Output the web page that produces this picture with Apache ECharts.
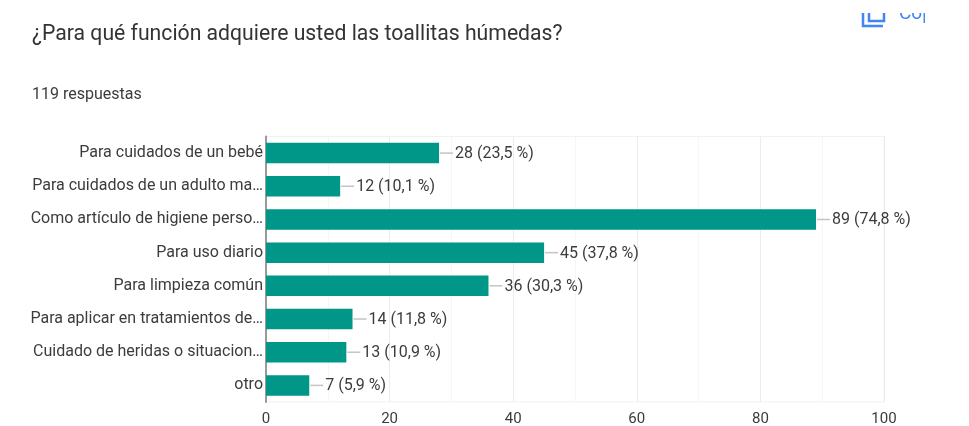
<!DOCTYPE html>
<html>
<head>
<meta charset="utf-8">
<style>html,body{margin:0;padding:0;background:#fff}#chart{width:969px;height:426px}</style>
<script src="https://cdn.jsdelivr.net/npm/echarts@6/dist/echarts.min.js"></script>
</head>
<body>
<div id="chart"></div>
<script>
const categories = [
  'Para cuidados de un bebé',
  'Para cuidados de un adulto ma…',
  'Como artículo de higiene perso…',
  'Para uso diario',
  'Para limpieza común',
  'Para aplicar en tratamientos de…',
  'Cuidado de heridas o situacion…',
  'otro'
];
const counts = [28, 12, 89, 45, 36, 14, 13, 7];
const percents = ['23,5', '10,1', '74,8', '37,8', '30,3', '11,8', '10,9', '5,9'];
const titleText = '¿Para qué función adquiere usted las toallitas húmedas?';
const subtitleText = '119 respuestas';
const copyText = 'Cop';

const FONT = 'Roboto, Arial, sans-serif';
const TEXT = '#3c3c3c';
const ACCENT = '#4285f4';

const chart = echarts.init(document.getElementById('chart'));
chart.setOption({
  animation: false,
  backgroundColor: '#fff',
  textStyle: { fontFamily: FONT },
  grid: {
    show: true, borderColor: '#f1f1f1', borderWidth: 1,
    left: 266, right: 85, top: 136.5, bottom: 24,
    outerBoundsMode: 'none'
  },
  xAxis: {
    type: 'value', min: 0, max: 100, interval: 20, splitNumber: 5,
    axisLine: { show: false }, axisTick: { show: false },
    axisLabel: { color: TEXT, fontSize: 15, fontFamily: FONT, margin: 10 },
    splitLine: { show: true, lineStyle: { color: '#ececec', width: 1 } },
    minorTick: { show: false, splitNumber: 2 },
    minorSplitLine: { show: true, lineStyle: { color: '#f6f6f6', width: 1 } }
  },
  yAxis: {
    type: 'category', data: categories, inverse: true,
    axisLine: { show: true, onZero: false, lineStyle: { color: '#9a9a9a', width: 2 } },
    axisTick: { show: false },
    axisLabel: { color: TEXT, fontSize: 16, fontFamily: FONT, margin: 3, interval: 0, padding: [2, 0, 0, 0] }
  },
  series: [
    {
      type: 'bar', data: counts, barWidth: 20.5,
      itemStyle: { color: '#009688' }
    },
    {
      // Leader line and "count (share %)" label beside each bar
      type: 'custom', silent: true, z: 5,
      data: counts.map((v, i) => [v, i]),
      encode: { x: 0, y: 1 },
      renderItem(params, api) {
        const p = api.coord([api.value(0), api.value(1)]);
        const i = params.dataIndex;
        return {
          type: 'group',
          children: [
            { type: 'line',
              shape: { x1: p[0] + 1, y1: p[1], x2: p[0] + 14, y2: p[1] },
              style: { stroke: '#c4c4c4', lineWidth: 1.5 } },
            { type: 'text',
              style: { x: p[0] + 16, y: p[1] + 1, text: `${counts[i]} (${percents[i]} %)`,
                       fill: TEXT, font: `16px ${FONT}`, align: 'left', verticalAlign: 'middle' } }
          ]
        };
      }
    }
  ],
  graphic: [
    { type: 'text', left: 32, top: 24,
      style: { text: titleText, fill: '#333', font: `21.2px ${FONT}` } },
    { type: 'text', left: 32, top: 87,
      style: { text: subtitleText, fill: TEXT, font: `16px ${FONT}` } },
    // Partly hidden copy action in the top corner
    { type: 'text', left: 899, top: 5, z: 1,
      style: { text: copyText, fill: ACCENT, font: `19px ${FONT}` } },
    { type: 'rect', shape: { x: 850, y: 0, width: 119, height: 13 }, z: 2,
      style: { fill: '#fff' } },
    { type: 'rect', shape: { x: 925, y: 0, width: 44, height: 40 }, z: 2,
      style: { fill: '#fff' } },
    { type: 'polyline', z: 3,
      shape: { points: [[863, 13], [863, 26], [883, 26]] },
      style: { stroke: ACCENT, fill: 'none', lineWidth: 2.5 } },
    { type: 'polyline', z: 3,
      shape: { points: [[869, 13], [869, 21], [884, 21], [884, 13]] },
      style: { stroke: ACCENT, fill: 'none', lineWidth: 2.5 } }
  ]
});
</script>
</body>
</html>
